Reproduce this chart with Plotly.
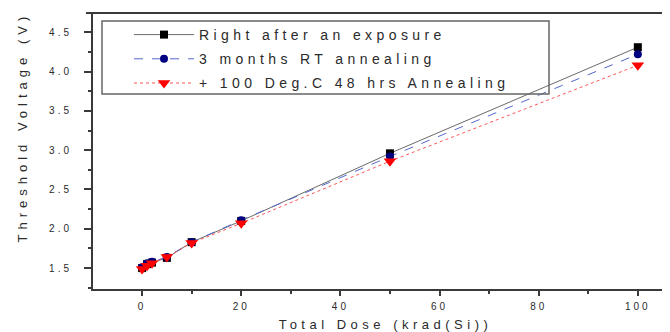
import plotly.graph_objects as go

dose = [0, 1, 2, 5, 10, 20, 50, 100]
v_right_after = [1.50, 1.55, 1.57, 1.63, 1.83, 2.10, 2.96, 4.31]
v_rt_anneal = [1.51, 1.56, 1.58, 1.64, 1.83, 2.11, 2.92, 4.22]
v_100c_anneal = [1.49, 1.53, 1.56, 1.64, 1.82, 2.07, 2.86, 4.08]

names = ["Right after an exposure", "3 months RT annealing", "+ 100 Deg.C 48 hrs Annealing"]
x_ticks = [0, 20, 40, 60, 80, 100]
y_ticks = [1.5, 2.0, 2.5, 3.0, 3.5, 4.0, 4.5]
x_title = "Total Dose (krad(Si))"
y_title = "Threshold Voltage (V)"

FONT = "Arial, 'Liberation Sans', sans-serif"
AX = "#3a3a3a"
TXT = "#2a2a2a"

fig = go.Figure()
fig.add_trace(go.Scatter(x=dose, y=v_right_after, name=names[0], legendgroup="a", mode="lines+markers",
                         line=dict(color="#6a6a6a", width=1),
                         marker=dict(symbol="square", size=8, color="#000000")))
fig.add_trace(go.Scatter(x=dose, y=v_rt_anneal, name=names[1], legendgroup="b", mode="lines+markers",
                         line=dict(color="#5566cc", width=1, dash="dash"),
                         marker=dict(symbol="circle", size=8, color="#000080")))
fig.add_trace(go.Scatter(x=dose, y=v_100c_anneal, name=names[2], legendgroup="c", mode="lines+markers",
                         line=dict(color="#ff5555", width=1, dash="dot"),
                         marker=dict(symbol="triangle-down", size=11, color="#ff0000")))

fig.update_layout(
    width=670, height=332,
    margin=dict(l=85, r=0, t=5, b=51),
    paper_bgcolor="white", plot_bgcolor="white",
    font=dict(family=FONT, color=TXT, size=10),
    showlegend=True,
    legend=dict(x=(121 - 85) / 585, y=(281 - 11) / 276, xanchor="left", yanchor="top",
                bgcolor="rgba(0,0,0,0)", borderwidth=0, itemwidth=60,
                font=dict(size=14, family=FONT, color=TXT), tracegroupgap=3),
    xaxis=dict(range=[-9.9, 108.1], tickvals=x_ticks, ticktext=[str(t) for t in x_ticks],
               ticks="outside", ticklen=5, tickwidth=1.5, tickcolor=AX,
               minor=dict(dtick=10, tick0=0, ticks="outside", ticklen=3, tickwidth=1.5, tickcolor=AX),
               showline=True, linecolor=AX, linewidth=2, showgrid=False, zeroline=False,
               tickfont=dict(size=10, color=TXT), ticklabelstandoff=2,
               title=dict(text=x_title, font=dict(size=13, color=TXT), standoff=9)),
    yaxis=dict(range=[1.234, 4.745], tickvals=y_ticks, ticktext=[f"{t:.1f}" for t in y_ticks],
               ticks="outside", ticklen=7, tickwidth=1.5, tickcolor=AX,
               minor=dict(dtick=0.25, tick0=1.5, ticks="outside", ticklen=3, tickwidth=1.5, tickcolor=AX),
               showline=True, linecolor=AX, linewidth=2, showgrid=False, zeroline=False,
               tickfont=dict(size=10, color=TXT), ticklabelstandoff=10),
    annotations=[
        dict(text=y_title, xref="paper", yref="paper", x=(15 - 85) / 585, y=(281 - 119) / 276,
             xanchor="center", yanchor="middle", textangle=-90, showarrow=False,
             font=dict(size=13, color=TXT, family=FONT)),
    ],
    shapes=[
        dict(type="line", xref="paper", yref="paper", x0=-0.012, x1=1, y0=1, y1=1,
             line=dict(color=AX, width=2)),
        dict(type="rect", xref="paper", yref="paper",
             x0=(94 - 85) / 585, x1=(541 - 85) / 585, y0=(281 - 86) / 276, y1=(281 - 13) / 276,
             line=dict(color="#666666", width=1.5)),
    ],
)

post = """
(function(){
  document.querySelectorAll('.legend [clip-path], .legend').forEach(function(e){e.removeAttribute('clip-path');});
  document.querySelectorAll('.legendtext').forEach(function(t){t.style.letterSpacing='4.4px';});
  document.querySelectorAll('.xtitle').forEach(function(t){t.style.letterSpacing='4.5px';});
  document.querySelectorAll('.annotation-text').forEach(function(t){t.style.letterSpacing='5px';});
  document.querySelectorAll('.xtick text, .ytick text').forEach(function(t){t.style.letterSpacing='3px';});
})();
"""

fig.write_html("out.html", post_script=post)
